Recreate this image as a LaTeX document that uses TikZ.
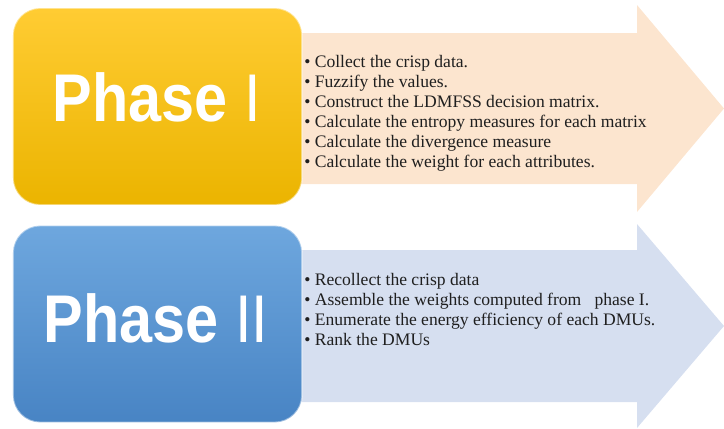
\documentclass[tikz,border=0pt]{standalone}
\usepackage{fontspec}
\setmainfont{Liberation Serif}
\setsansfont{Liberation Sans}

\definecolor{goldtop}{HTML}{FFCC33}
\definecolor{goldmid}{HTML}{FFC20A}
\definecolor{goldbot}{HTML}{EBB400}
\definecolor{bluetop}{HTML}{6EA7DE}
\definecolor{bluemid}{HTML}{5A97D3}
\definecolor{bluebot}{HTML}{4884C4}
\definecolor{peach}{HTML}{FCE5CF}
\definecolor{paleblue}{HTML}{D6DFF0}
\definecolor{textgray}{HTML}{1F1F1F}

\tikzset{
    phasebox/.style={rounded corners=0.68cm, minimum width=7.225cm,
        minimum height=4.92cm, inner sep=0pt,
        draw=white, draw opacity=0.45, line width=1.2pt},
    phaselabel/.style={anchor=base, inner sep=0pt, text=white,
        font=\sffamily\fontsize{48}{48}\selectfont},
    steptext/.style={anchor=base west, inner sep=0pt, text=textgray,
        font=\fontsize{12.5}{14}\selectfont},
}

\begin{document}
\begin{tikzpicture}[x=0.025cm, y=-0.025cm]
\useasboundingbox (0,0) rectangle (724,428);

% arrows behind the boxes
\fill[peach] (290,33) -- (637,33) -- (637,5) -- (724,108.5)
    -- (637,212) -- (637,184) -- (290,184) -- cycle;
\fill[paleblue] (290,250) -- (637,250) -- (637,224) -- (724,326)
    -- (637,428) -- (637,402) -- (290,402) -- cycle;

% phase boxes
\node[phasebox, top color=goldtop, middle color=goldmid, bottom color=goldbot]
    (boxI) at (157.5,106.5) {};
\node[phasebox, top color=bluetop, middle color=bluemid, bottom color=bluebot]
    (boxII) at (157.5,324) {};
\node[phaselabel] (labelI) at (157,121)
    {\scalebox{0.88}[1]{\bfseries Phase {\mdseries I}}};
\node[phaselabel] (labelII) at (156,342)
    {\scalebox{0.88}[1]{\bfseries Phase {\mdseries II}}};

% steps of each phase
\foreach \txt [count=\i from 0] in {Collect the crisp data., Fuzzify the values.,
        Construct the LDMFSS decision matrix.,
        Calculate the entropy measures for each matrix,
        Calculate the divergence measure,
        Calculate the weight for each attributes.} {
    \node[steptext] (stepI-\i) at (304, 67+20*\i) {\textbullet\ \txt};
};
\foreach \txt [count=\i from 0] in {Recollect the crisp data,
        Assemble the weights computed from\ \ \ phase I.,
        Enumerate the energy efficiency of each DMUs.,
        Rank the DMUs} {
    \node[steptext] (stepII-\i) at (304, 285+20*\i) {\textbullet\ \txt};
};
\end{tikzpicture}
\end{document}
